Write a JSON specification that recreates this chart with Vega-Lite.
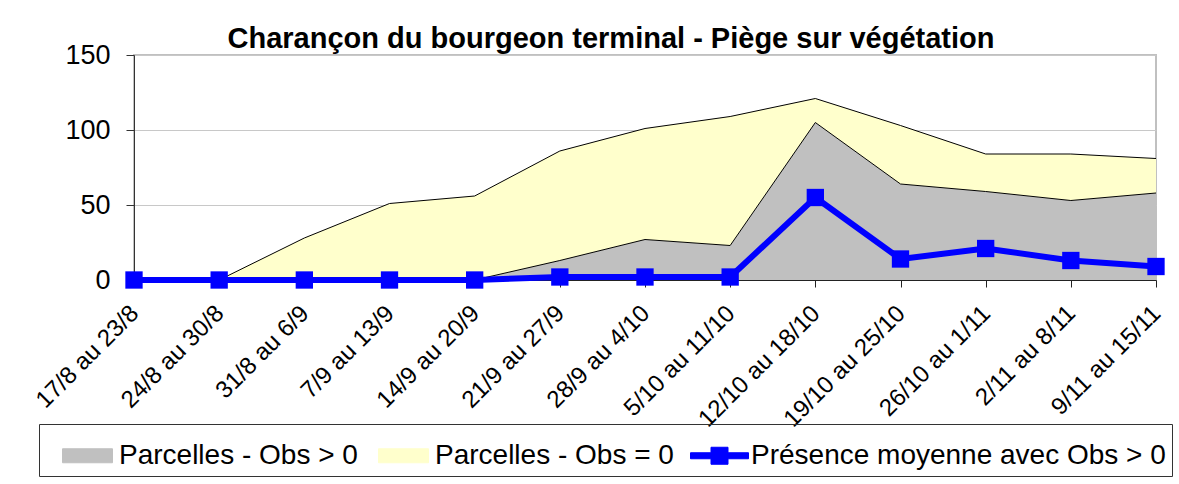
{
  "$schema": "https://vega.github.io/schema/vega-lite/v6.json",
  "width": 1022,
  "height": 225,
  "autosize": {"type": "none"},
  "padding": {"left": 134, "top": 55, "right": 23, "bottom": 204},
  "background": "white",
  "title": {
    "text": "Charançon du bourgeon terminal - Piège sur végétation",
    "font": "Liberation Sans",
    "fontSize": 29,
    "fontWeight": "bold",
    "color": "black",
    "anchor": "middle",
    "baseline": "alphabetic",
    "offset": -36,
    "dx": -34
  },
  "config": {
    "view": {"stroke": "#C0C0C0", "strokeWidth": 2},
    "font": "Liberation Sans",
    "axis": {"labelFont": "Liberation Sans", "labelColor": "black"}
  },
  "data": {
    "values": [
      {"semaine": "17/8 au 23/8", "serie": "Parcelles - Obs > 0", "valeur": 0},
      {"semaine": "24/8 au 30/8", "serie": "Parcelles - Obs > 0", "valeur": 0},
      {"semaine": "31/8 au 6/9", "serie": "Parcelles - Obs > 0", "valeur": 0},
      {"semaine": "7/9 au 13/9", "serie": "Parcelles - Obs > 0", "valeur": 0},
      {"semaine": "14/9 au 20/9", "serie": "Parcelles - Obs > 0", "valeur": 0},
      {"semaine": "21/9 au 27/9", "serie": "Parcelles - Obs > 0", "valeur": 13},
      {"semaine": "28/9 au 4/10", "serie": "Parcelles - Obs > 0", "valeur": 27},
      {"semaine": "5/10 au 11/10", "serie": "Parcelles - Obs > 0", "valeur": 23},
      {"semaine": "12/10 au 18/10", "serie": "Parcelles - Obs > 0", "valeur": 105},
      {"semaine": "19/10 au 25/10", "serie": "Parcelles - Obs > 0", "valeur": 64},
      {"semaine": "26/10 au 1/11", "serie": "Parcelles - Obs > 0", "valeur": 59},
      {"semaine": "2/11 au 8/11", "serie": "Parcelles - Obs > 0", "valeur": 53},
      {"semaine": "9/11 au 15/11", "serie": "Parcelles - Obs > 0", "valeur": 58},
      {"semaine": "17/8 au 23/8", "serie": "Parcelles - Obs = 0", "valeur": 0},
      {"semaine": "24/8 au 30/8", "serie": "Parcelles - Obs = 0", "valeur": 0},
      {"semaine": "31/8 au 6/9", "serie": "Parcelles - Obs = 0", "valeur": 28},
      {"semaine": "7/9 au 13/9", "serie": "Parcelles - Obs = 0", "valeur": 51},
      {"semaine": "14/9 au 20/9", "serie": "Parcelles - Obs = 0", "valeur": 56},
      {"semaine": "21/9 au 27/9", "serie": "Parcelles - Obs = 0", "valeur": 73},
      {"semaine": "28/9 au 4/10", "serie": "Parcelles - Obs = 0", "valeur": 74},
      {"semaine": "5/10 au 11/10", "serie": "Parcelles - Obs = 0", "valeur": 86},
      {"semaine": "12/10 au 18/10", "serie": "Parcelles - Obs = 0", "valeur": 16},
      {"semaine": "19/10 au 25/10", "serie": "Parcelles - Obs = 0", "valeur": 39},
      {"semaine": "26/10 au 1/11", "serie": "Parcelles - Obs = 0", "valeur": 25},
      {"semaine": "2/11 au 8/11", "serie": "Parcelles - Obs = 0", "valeur": 31},
      {"semaine": "9/11 au 15/11", "serie": "Parcelles - Obs = 0", "valeur": 23},
      {"semaine": "17/8 au 23/8", "serie": "Présence moyenne avec Obs > 0", "valeur": 0},
      {"semaine": "24/8 au 30/8", "serie": "Présence moyenne avec Obs > 0", "valeur": 0},
      {"semaine": "31/8 au 6/9", "serie": "Présence moyenne avec Obs > 0", "valeur": 0},
      {"semaine": "7/9 au 13/9", "serie": "Présence moyenne avec Obs > 0", "valeur": 0},
      {"semaine": "14/9 au 20/9", "serie": "Présence moyenne avec Obs > 0", "valeur": 0},
      {"semaine": "21/9 au 27/9", "serie": "Présence moyenne avec Obs > 0", "valeur": 2},
      {"semaine": "28/9 au 4/10", "serie": "Présence moyenne avec Obs > 0", "valeur": 2},
      {"semaine": "5/10 au 11/10", "serie": "Présence moyenne avec Obs > 0", "valeur": 2},
      {"semaine": "12/10 au 18/10", "serie": "Présence moyenne avec Obs > 0", "valeur": 55},
      {"semaine": "19/10 au 25/10", "serie": "Présence moyenne avec Obs > 0", "valeur": 14},
      {"semaine": "26/10 au 1/11", "serie": "Présence moyenne avec Obs > 0", "valeur": 21},
      {"semaine": "2/11 au 8/11", "serie": "Présence moyenne avec Obs > 0", "valeur": 13},
      {"semaine": "9/11 au 15/11", "serie": "Présence moyenne avec Obs > 0", "valeur": 9}
    ]
  },
  "encoding": {
    "x": {
      "field": "semaine",
      "type": "ordinal",
      "sort": null,
      "scale": {"type": "point", "padding": 0},
      "axis": {
        "title": null,
        "labelAngle": -45,
        "labelFontSize": 24,
        "labelPadding": 14,
        "labelOffset": -8,
        "tickSize": 7,
        "tickColor": "#222",
        "domainColor": "#222",
        "grid": false,
        "labelOverlap": false
      }
    },
    "y": {
      "field": "valeur",
      "type": "quantitative",
      "scale": {"domain": [0, 150], "nice": false},
      "axis": {
        "title": null,
        "values": [0, 50, 100, 150],
        "labelFontSize": 27,
        "labelPadding": 16,
        "tickSize": 8,
        "tickColor": "#333",
        "domainColor": "#333",
        "gridColor": "#C8C8C8",
        "grid": true
      }
    }
  },
  "layer": [
    {
      "transform": [{"filter": "datum.serie !== 'Présence moyenne avec Obs > 0'"}],
      "mark": {"type": "area", "opacity": 1},
      "encoding": {
        "y": {"field": "valeur", "type": "quantitative", "stack": "zero"},
        "order": {"field": "serie", "sort": "descending"},
        "color": {
          "field": "serie",
          "type": "nominal",
          "scale": {
            "domain": ["Parcelles - Obs > 0", "Parcelles - Obs = 0", "Présence moyenne avec Obs > 0"],
            "range": ["#C0C0C0", "#FFFFCC", "#0000FF"]
          },
          "legend": {
            "title": null,
            "orient": "none",
            "legendX": -95,
            "legendY": 369,
            "direction": "horizontal",
            "strokeColor": "#333",
            "padding": 6,
            "symbolSize": 2500,
            "symbolOffset": 17,
            "labelOffset": 6,
            "columnPadding": 3,
            "labelFont": "Liberation Sans",
            "labelFontSize": 28,
            "labelColor": "black",
            "labelLimit": 0,
            "symbolOpacity": 1,
            "symbolStrokeWidth": 1,
            "symbolType": {"expr": "datum.value === 'Présence moyenne avec Obs > 0' ? 'M-1.16,-0.12H-0.34V-0.34H0.34V-0.12H1.16V0.12H0.34V0.34H-0.34V0.12H-1.16Z' : 'M-1,-0.28H1V0.28H-1Z'"},
            "symbolStrokeColor": {"expr": "datum.value === 'Présence moyenne avec Obs > 0' ? '#0000FF' : '#222222'"}
          }
        }
      }
    },
    {
      "transform": [{"filter": "datum.serie !== 'Présence moyenne avec Obs > 0'"}],
      "mark": {"type": "line", "color": "black", "strokeWidth": 1},
      "encoding": {
        "y": {"field": "valeur", "type": "quantitative", "stack": "zero"},
        "order": {"field": "serie", "sort": "descending"},
        "detail": {"field": "serie", "type": "nominal"}
      }
    },
    {
      "transform": [{"filter": "datum.serie === 'Présence moyenne avec Obs > 0'"}],
      "mark": {"type": "line", "strokeWidth": 6, "strokeJoin": "round"},
      "encoding": {
        "color": {"field": "serie", "type": "nominal"}
      }
    },
    {
      "transform": [{"filter": "datum.serie === 'Présence moyenne avec Obs > 0'"}],
      "mark": {"type": "point", "shape": "square", "filled": true, "size": 300, "opacity": 1},
      "encoding": {
        "color": {"field": "serie", "type": "nominal"}
      }
    }
  ]
}
